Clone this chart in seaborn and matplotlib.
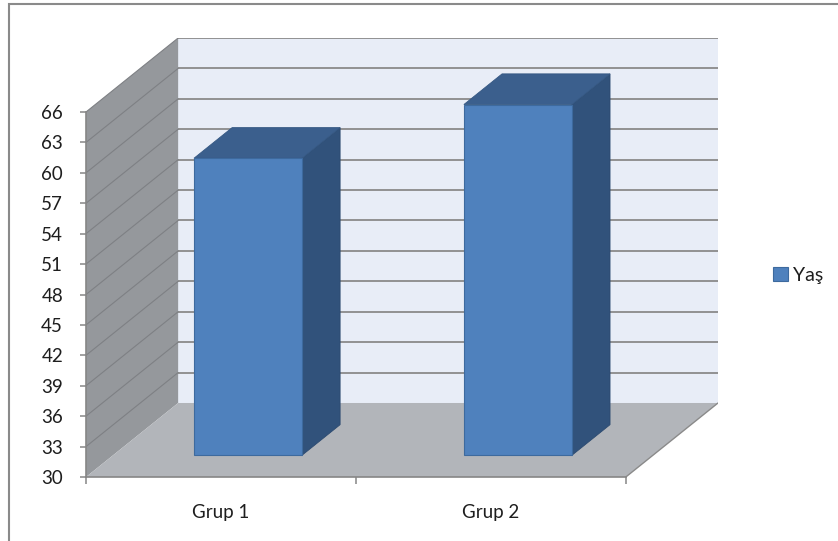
import matplotlib
matplotlib.use("Agg")
import matplotlib.pyplot as plt
import matplotlib.transforms as mtransforms
from matplotlib.patches import Polygon, Rectangle, Patch
import seaborn as sns
import pandas as pd

# Data
groups = ["Grup 1", "Grup 2"]
ages = [59.3, 64.6]
series_name = "Yaş"
y_ticks = list(range(30, 67, 3))

# Pseudo-3D geometry (data units)
Y_MIN, Y_MAX = 30, 66
DEPTH_X, DEPTH_Y = 0.3414, 7.30      # offset of the back wall relative to the front plane
BAR_FRONT, BAR_BACK = 0.293, 0.707   # depth span of each bar as fraction of the floor depth

FRONT = "#4F81BD"
EDGE = "#3D6A9E"
SIDE = "#31527B"
TOP = "#3B5F8D"
BACK_WALL = "#E8EDF7"
SIDE_WALL = "#95989C"
FLOOR = "#B2B5BA"
GRID = "#8A8A8A"
AXIS = "#868686"
TEXT = "#1E1E1E"

sns.set_theme(style="white")
plt.rcParams["font.family"] = ["Lato", "DejaVu Sans"]

W, H = 838, 541
fig = plt.figure(figsize=(W / 100, H / 100), dpi=100)
ax = fig.add_axes([86 / W, 64 / H, 632 / W, 439 / H])

df = pd.DataFrame({"group": groups, "age": ages})
sns.barplot(data=df, x="group", y="age", width=0.4, color=FRONT, saturation=1,
            edgecolor=EDGE, linewidth=0.8, ax=ax, zorder=5)

ax.set_xlim(-0.5, 1.5 + DEPTH_X)
ax.set_ylim(Y_MIN, Y_MAX + DEPTH_Y)
ax.patch.set_alpha(0)
ax.set_xlabel("")
ax.set_ylabel("")

# Walls and floor
x_l, x_r = -0.5, 1.5
ax.add_patch(Rectangle((x_l + DEPTH_X, Y_MIN + DEPTH_Y), x_r - x_l, Y_MAX - Y_MIN,
                       facecolor=BACK_WALL, edgecolor="none", zorder=0.5))
ax.add_patch(Polygon([(x_l, Y_MIN), (x_l, Y_MAX), (x_l + DEPTH_X, Y_MAX + DEPTH_Y),
                      (x_l + DEPTH_X, Y_MIN + DEPTH_Y)],
                     facecolor=SIDE_WALL, edgecolor="none", zorder=0.5))
ax.add_patch(Polygon([(x_l, Y_MIN), (x_r, Y_MIN), (x_r + DEPTH_X, Y_MIN + DEPTH_Y),
                      (x_l + DEPTH_X, Y_MIN + DEPTH_Y)],
                     facecolor=FLOOR, edgecolor="none", zorder=0.6))
ax.plot([x_r, x_r + DEPTH_X], [Y_MIN, Y_MIN + DEPTH_Y], color=GRID, lw=1.0, zorder=0.7)

# Gridlines on back wall and side wall
for v in y_ticks[1:]:
    ax.plot([x_l + DEPTH_X, x_r + DEPTH_X], [v + DEPTH_Y, v + DEPTH_Y],
            color=GRID, lw=1.3, zorder=0.8, solid_capstyle="butt")
    ax.plot([x_l, x_l + DEPTH_X], [v, v + DEPTH_Y], color="#7E8084", lw=0.8, zorder=0.8)

# Give each bar depth: shift the front face and add side and top faces
fx, fy = BAR_FRONT * DEPTH_X, BAR_FRONT * DEPTH_Y
bx, by = BAR_BACK * DEPTH_X, BAR_BACK * DEPTH_Y
for bar in list(ax.patches):
    if bar.get_zorder() != 5:
        continue
    top = bar.get_y() + bar.get_height()
    bar.set_y(Y_MIN)
    bar.set_height(top - Y_MIN)
    x0, w = bar.get_x(), bar.get_width()
    bar.set_transform(mtransforms.Affine2D().translate(fx, fy) + ax.transData)
    ax.add_patch(Polygon([(x0 + w + fx, Y_MIN + fy), (x0 + w + bx, Y_MIN + by),
                          (x0 + w + bx, top + by), (x0 + w + fx, top + fy)],
                         facecolor=SIDE, edgecolor="#2C4A70", lw=0.6, zorder=4))
    ax.add_patch(Polygon([(x0 + fx, top + fy), (x0 + w + fx, top + fy),
                          (x0 + w + bx, top + by), (x0 + bx, top + by)],
                         facecolor=TOP, edgecolor="#355883", lw=0.6, zorder=4))

# Axes
for s in ("top", "right"):
    ax.spines[s].set_visible(False)
ax.spines["left"].set_bounds(Y_MIN, Y_MAX)
ax.spines["bottom"].set_bounds(x_l, x_r)
for s in ("left", "bottom"):
    ax.spines[s].set_color(AXIS)
    ax.spines[s].set_linewidth(1.2)
    ax.spines[s].set_zorder(6)

ax.set_yticks(y_ticks)
ax.set_yticklabels([str(t) for t in y_ticks])
ax.tick_params(axis="y", which="major", direction="out", length=4.5, width=1.1,
               color=AXIS, pad=12, labelsize=13.5, labelcolor=TEXT, left=True)

ax.set_xticks([x_l, 0.5, x_r])
ax.set_xticklabels(["", "", ""])
ax.set_xticks([0, 1], minor=True)
ax.set_xticklabels(groups, minor=True)
ax.tick_params(axis="x", which="major", direction="out", length=5, width=1.1,
               color=AXIS, bottom=True)
ax.tick_params(axis="x", which="minor", length=0, pad=19.5, labelsize=13.5,
               labelcolor=TEXT, bottom=True)

# Legend
fig.legend(handles=[Patch(facecolor=FRONT, edgecolor=EDGE, lw=0.8, label=series_name)],
           loc="center left", bbox_to_anchor=(773 / W, 1 - 275 / H), frameon=False,
           handlelength=0.75, handleheight=0.75, handletextpad=0.3, fontsize=14,
           borderaxespad=0, borderpad=0, labelcolor=TEXT)

# Chart area border
fig.add_artist(Rectangle((9 / W, -0.05), 1.0, 1 - 4 / H + 0.05, transform=fig.transFigure,
                         fill=False, edgecolor="#8A8A8A", lw=1.5))

fig.savefig("out.png", dpi=100)
